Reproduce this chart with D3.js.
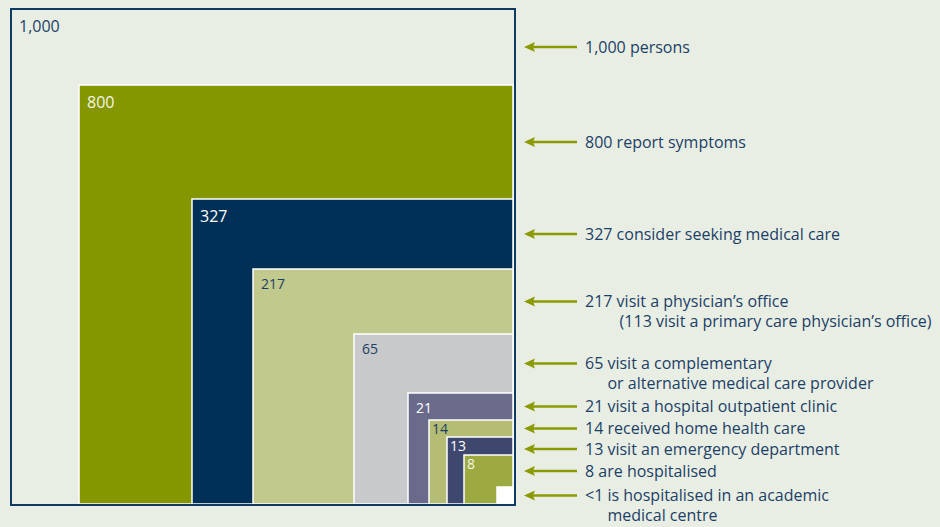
<!DOCTYPE html>
<html>
<head>
<meta charset="utf-8">
<script src="https://cdn.jsdelivr.net/npm/d3@7"></script>
<style>
  html, body { margin: 0; padding: 0; background: #e9eee5; }
  svg { display: block; }
</style>
</head>
<body>
<svg id="chart"></svg>
<script>
// DATA
const counts = [1000, 800, 327, 217, 65, 21, 14, 13, 8, 0.5]
const boxLabels = ["1,000", "800", "327", "217", "65", "21", "14", "13", "8", ""]
const descLines = [
    ["1,000 persons"],
    ["800 report symptoms"],
    ["327 consider seeking medical care"],
    ["217 visit a physician\u2019s office", "(113 visit a primary care physician\u2019s office)"],
    ["65 visit a complementary", "or alternative medical care provider"],
    ["21 visit a hospital outpatient clinic"],
    ["14 received home health care"],
    ["13 visit an emergency department"],
    ["8 are hospitalised"],
    ["<1 is hospitalised in an academic", "medical centre"]
]

// STYLES
const boxFill = ["none", "#859700", "#003057", "#c1c98c", "#c8c9cb", "#6a6b8b", "#b5bd74", "#3e476e", "#9daa42", "#ffffff"]
const labelFill = ["#1c3f66", "#f4f4e6", "#ffffff", "#1c3f66", "#1c3f66", "#ffffff", "#1c3f66", "#ffffff", "#f4f4e6", "#ffffff"]
const navy = "#1c3f66"
const olive = "#8a9a00"
const font = '"Open Sans", Lato, sans-serif'

let W = 940, H = 527
let svg = d3.select('#chart').attr('width', W).attr('height', H)

// anchor corner (bottom-right) of the nested boxes
let right = 513, bottom = 504

// box size scales (diagram is drawn not to area scale, knots)
let asc = counts.slice().sort((a, b) => a - b)
let widthScale = d3.scaleLinear()
    .domain(asc)
    .range([16, 49, 66, 84, 105, 159, 260, 321, 434, 502])
let heightScale = d3.scaleLinear()
    .domain(asc)
    .range([17, 49, 67, 84, 111, 170, 235, 305, 419, 495])

let boxes = counts.map((c, i) => ({
    value: c,
    label: boxLabels[i],
    x: right - widthScale(c),
    y: bottom - heightScale(c),
    w: widthScale(c),
    h: heightScale(c),
    i: i
}))

// BOXES
svg.append('g')
    .selectAll('rect')
    .data(boxes.slice(1))
    .join('rect')
        .attr('x', d => d.x)
        .attr('y', d => d.y)
        .attr('width', d => d.w)
        .attr('height', d => d.h)
        .attr('fill', d => boxFill[d.i])
        .attr('stroke', '#ffffff')
        .attr('stroke-width', 1.5)

// outer frame for the 1,000
svg.append('rect')
    .attr('x', boxes[0].x)
    .attr('y', boxes[0].y)
    .attr('width', boxes[0].w + 2)
    .attr('height', boxes[0].h + 1)
    .attr('fill', 'none')
    .attr('stroke', '#0f3a63')
    .attr('stroke-width', 2)

// BOX LABELS
svg.append('g')
    .selectAll('text')
    .data(boxes.filter(d => d.label !== ""))
    .join('text')
        .attr('x', d => d.x + (d.w >= 100 ? 8 : 3))
        .attr('y', d => d.y + (d.value >= 300 ? 23 : (d.w >= 100 ? 20 : 14)))
        .attr('fill', d => labelFill[d.i])
        .attr('font-family', font)
        .attr('font-size', d => d.value >= 300 ? 16 : 14)
        .text(d => d.label)

// ARROWS + DESCRIPTIONS
// arrow sits in the middle of each visible strip, pushed down when strips get too thin
let arrowY = []
boxes.forEach((d, i) => {
    let mid = i < boxes.length - 1 ? (d.y + boxes[i + 1].y) / 2 : (d.y + bottom) / 2
    if (i > 0) mid = Math.max(mid, arrowY[i - 1] + 20.5)
    arrowY.push(mid)
})

let ann = svg.append('g')
    .selectAll('g')
    .data(boxes)
    .join('g')
        .attr('transform', (d, i) => `translate(0, ${arrowY[i]})`)

ann.append('line')
    .attr('x1', 532).attr('x2', 577)
    .attr('y1', 0).attr('y2', 0)
    .attr('stroke', olive)
    .attr('stroke-width', 2.5)

ann.append('path')
    .attr('d', 'M524,0 L535,-5 L533,0 L535,5 Z')
    .attr('fill', olive)

let textX = 585
ann.each(function(d, i) {
    let g = d3.select(this)
    let lines = descLines[i]
    g.append('text')
        .attr('x', textX)
        .attr('y', 5.5)
        .attr('fill', navy)
        .attr('font-family', font)
        .attr('font-size', 16)
        .text(lines[0])
    if (lines.length > 1) {
        // indent second line under the word after the number
        let probe = g.append('text')
            .attr('font-family', font)
            .attr('font-size', 16)
            .text(lines[0].split(' ')[0] + '\u00a0')
        let indent = probe.node().getComputedTextLength()
        probe.remove()
        if (lines[1].startsWith('(')) indent += 3
        g.append('text')
            .attr('x', textX + indent)
            .attr('y', 25.5)
            .attr('fill', navy)
            .attr('font-family', font)
            .attr('font-size', 16)
            .text(lines[1])
    }
})
</script>
</body>
</html>
